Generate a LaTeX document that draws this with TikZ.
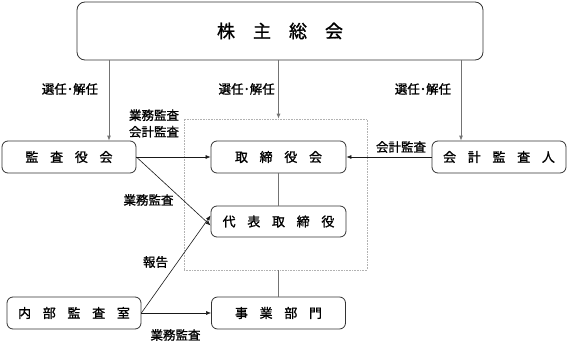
\documentclass[tikz,border=0pt]{standalone}
\usepackage{fontspec}
\newfontfamily\jpfont{Noto Sans CJK JP}[FakeBold=1.2]
\usetikzlibrary{arrows.meta}
\newcommand{\kgap}{\hspace{0.9em}}

\begin{document}
\begin{tikzpicture}[x=1pt,y=-1pt,
  box/.style={draw=black!80,line width=0.8pt,rounded corners=6pt,minimum width=134pt,minimum height=32pt,inner sep=0pt,font=\jpfont\fontsize{13}{13}\selectfont},
  lbl/.style={font=\jpfont\fontsize{12.5}{16.5}\selectfont,inner sep=0pt,align=center},
  arr/.style={-{Latex[length=5pt,width=4pt]},line width=0.6pt,black!90},
  gline/.style={line width=0.8pt,black!55}]
\useasboundingbox (0,0) rectangle (567,345);
\node[draw=gray!60,densely dotted,line width=0.6pt,minimum width=183pt,minimum height=151pt,inner sep=0pt] (grp) at (275.5,194.5) {};
\node[box,minimum width=406pt,minimum height=58pt,rounded corners=8pt,font=\jpfont\fontsize{18}{18}\selectfont] (gm) at (280,31) {株\hspace{1em}主\hspace{1em}総\hspace{1em}会};
\node[box] (kansa) at (69,157) {監\kgap 査\kgap 役\kgap 会};
\node[box,minimum width=135pt] (board) at (278.5,157) {取\kgap 締\kgap 役\kgap 会};
\node[box] (auditor) at (499,157) {会\kgap 計\kgap 監\kgap 査\kgap 人};
\node[box,minimum width=135pt,minimum height=31pt] (rep) at (278.5,221.5) {代\kgap 表\kgap 取\kgap 締\kgap 役};
\node[box] (internal) at (74,313) {内\kgap 部\kgap 監\kgap 査\kgap 室};
\node[box] (dept) at (278.5,313) {事\kgap 業\kgap 部\kgap 門};
\draw[gline,-{Latex[length=5pt,width=4pt]}] ([xshift=40pt]kansa.north |- gm.south) -- ([xshift=40pt]kansa.north);
\draw[gline,-{Latex[length=5pt,width=4pt]}] (board.north |- gm.south) -- (board.north |- grp.north);
\draw[gline,-{Latex[length=5pt,width=4pt]}] ([xshift=-38pt]auditor.north |- gm.south) -- ([xshift=-38pt]auditor.north);
\draw[arr] (kansa.east) -- (board.west);
\draw[arr] (kansa.east) -- ([yshift=-4pt]rep.west);
\draw[arr] (auditor.west) -- (board.east);
\draw[arr] (internal.east) -- ([yshift=6pt]rep.west);
\draw[arr] (internal.east) -- (dept.west);
\draw[gline] (board.south) -- (rep.north);
\draw[gline] (dept.north |- grp.south) -- (dept.north);
\node[lbl] (l1) at (70,89) {選任･解任};
\node[lbl,anchor=east] (l2) at (275,89) {選任･解任};
\node[lbl] (l3) at (423,89) {選任･解任};
\node[lbl] (l4) at (154,123.5) {業務監査\\会計監査};
\node[lbl] (l5) at (148.5,200) {業務監査};
\node[lbl] (l6) at (155.5,262) {報告};
\node[lbl] (l7) at (175.5,335) {業務監査};
\node[lbl] (l8) at (401,147) {会計監査};
\end{tikzpicture}
\end{document}
